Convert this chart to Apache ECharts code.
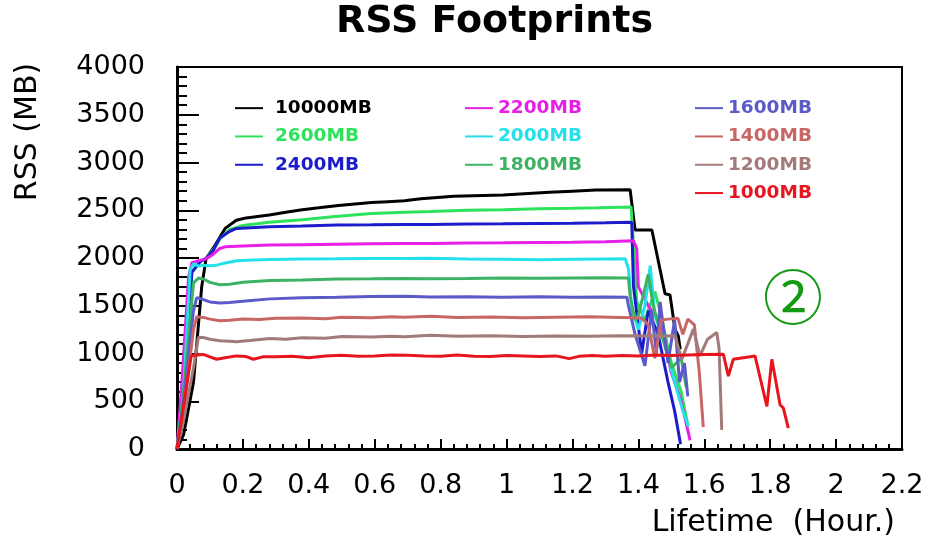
<!DOCTYPE html>
<html>
<head>
<meta charset="utf-8">
<script src="https://cdn.jsdelivr.net/npm/echarts@6/dist/echarts.min.js"></script>
<style>
html,body{margin:0;padding:0;background:#ffffff;}
#chart{width:934px;height:549px;}
</style>
</head>
<body>
<div id="chart"></div>
<script>
// ---------- data ----------
const seriesNames = ['10000MB','2600MB','2400MB','2200MB','2000MB','1800MB','1600MB','1400MB','1200MB','1000MB'];
const seriesColors = ['#000000','#2ee35c','#1c1ccc','#e61ee6','#24e0ea','#3db262','#5a5ac8','#c86666','#a27a7a','#e8141e'];
const legendColumns = [
  ['10000MB','2600MB','2400MB'],
  ['2200MB','2000MB','1800MB'],
  ['1600MB','1400MB','1200MB','1000MB']
];
const xTickLabels = ['0','0.2','0.4','0.6','0.8','1','1.2','1.4','1.6','1.8','2','2.2'];
const yTickLabels = ['0','500','1000','1500','2000','2500','3000','3500','4000'];

const hours10000 = [0,0.02,0.05,0.075,0.088,0.115,0.146,0.18,0.21,0.28,0.33,0.38,0.43,0.49,0.54,0.59,0.64,0.69,0.74,0.84,0.99,1.13,1.2,1.27,1.375,1.39,1.441,1.481,1.496,1.511,1.521,1.527];
const rss10000   = [0,150,700,1700,1990,2130,2310,2395,2420,2450,2480,2505,2525,2550,2565,2580,2590,2600,2620,2646,2660,2688,2700,2712,2715,2293,2293,1625,1614,1255,1185,1044];

const hours2600 = [0,0.02,0.045,0.07,0.09,0.115,0.13,0.16,0.2,0.28,0.38,0.48,0.59,0.69,0.77,0.88,0.99,1.1,1.2,1.28,1.378,1.385,1.395,1.42,1.45,1.47,1.5,1.53,1.55];
const rss2600   = [0,500,1850,1960,2000,2110,2200,2300,2340,2375,2400,2435,2465,2480,2488,2500,2505,2515,2520,2525,2535,2150,1550,1350,1650,1380,900,600,250];

const hours2400 = [0,0.02,0.045,0.07,0.09,0.11,0.13,0.16,0.181,0.28,0.38,0.485,0.59,0.69,0.77,0.88,0.99,1.1,1.2,1.3,1.38,1.385,1.41,1.43,1.46,1.49,1.51,1.528];
const rss2400   = [0,500,1850,1960,2000,2080,2210,2280,2310,2327,2335,2345,2348,2352,2352,2355,2358,2362,2365,2370,2375,1710,1000,1450,1200,700,400,50];

const hours2200 = [0,0.015,0.035,0.045,0.07,0.09,0.11,0.13,0.146,0.2,0.28,0.38,0.485,0.59,0.69,0.77,0.88,0.99,1.1,1.2,1.3,1.385,1.395,1.4,1.43,1.47,1.5,1.53,1.557];
const rss2200   = [0,700,1800,1950,1975,1995,2040,2100,2117,2125,2135,2140,2145,2150,2152,2153,2158,2160,2163,2165,2170,2180,2100,1700,1500,1300,800,500,90];

const hours2000 = [0,0.02,0.04,0.05,0.065,0.08,0.1,0.12,0.15,0.181,0.23,0.282,0.38,0.485,0.59,0.69,0.768,0.88,0.99,1.1,1.2,1.3,1.36,1.37,1.38,1.4,1.42,1.436,1.45,1.48,1.51,1.535,1.552];
const rss2000   = [0,600,1880,1940,1915,1925,1920,1925,1950,1972,1980,1985,1990,1992,1995,1996,1998,1990,1986,1982,1986,1990,1992,1888,1470,1250,1500,1920,1400,1100,700,400,235];

const hours1800 = [0,0.02,0.05,0.065,0.08,0.1,0.13,0.16,0.2,0.282,0.38,0.485,0.59,0.69,0.77,0.88,0.99,1.1,1.2,1.3,1.37,1.375,1.39,1.4,1.43,1.445,1.47,1.5,1.53,1.545];
const rss1800   = [0,600,1740,1790,1780,1745,1720,1725,1745,1765,1770,1780,1782,1785,1783,1785,1790,1788,1790,1792,1790,1600,1350,1400,1830,1500,1200,850,950,650];

const hours1600 = [0,0.02,0.05,0.06,0.08,0.1,0.13,0.16,0.2,0.282,0.38,0.485,0.59,0.69,0.77,0.88,0.99,1.1,1.2,1.3,1.365,1.37,1.39,1.42,1.44,1.455,1.466,1.49,1.51,1.525,1.54,1.55];
const rss1600   = [0,500,1450,1585,1565,1540,1530,1535,1548,1572,1585,1590,1598,1600,1592,1595,1590,1593,1588,1592,1590,1500,1200,870,1450,1000,1540,900,1350,700,900,550];

const hours1400 = [0,0.02,0.05,0.06,0.08,0.1,0.13,0.16,0.2,0.25,0.3,0.38,0.45,0.5,0.59,0.65,0.69,0.77,0.85,0.95,1.05,1.15,1.25,1.35,1.385,1.41,1.43,1.45,1.47,1.49,1.52,1.535,1.55,1.57,1.585,1.597];
const rss1400   = [0,400,1250,1385,1378,1360,1344,1348,1362,1355,1368,1372,1365,1380,1375,1385,1380,1390,1378,1382,1375,1380,1385,1378,1375,1370,1300,950,1350,1360,1370,1200,1360,1300,800,230];

const hours1200 = [0,0.02,0.05,0.065,0.08,0.1,0.13,0.16,0.181,0.22,0.282,0.33,0.38,0.45,0.5,0.59,0.65,0.69,0.77,0.85,0.95,1.05,1.15,1.25,1.35,1.45,1.511,1.532,1.567,1.587,1.61,1.638,1.645,1.653];
const rss1200   = [0,300,850,1170,1168,1150,1133,1128,1122,1135,1157,1150,1165,1160,1178,1172,1180,1175,1190,1180,1185,1178,1183,1180,1185,1183,1185,939,1255,974,1150,1220,1050,200];

const hours1000 = [0,0.02,0.043,0.06,0.08,0.1,0.12,0.146,0.18,0.21,0.232,0.26,0.3,0.35,0.4,0.45,0.5,0.55,0.6,0.65,0.7,0.75,0.8,0.85,0.9,0.95,1.0,1.05,1.1,1.15,1.19,1.22,1.26,1.3,1.35,1.4,1.45,1.5,1.55,1.6,1.658,1.673,1.688,1.754,1.79,1.805,1.83,1.84,1.855];
const rss1000   = [0,450,974,985,990,965,940,956,975,968,940,965,967,972,956,975,981,970,974,985,981,975,970,985,972,968,978,975,968,975,946,970,978,972,980,975,985,978,985,990,992,763,939,974,446,939,464,429,218];

const hourArrays = [hours10000,hours2600,hours2400,hours2200,hours2000,hours1800,hours1600,hours1400,hours1200,hours1000];
const rssArrays  = [rss10000,rss2600,rss2400,rss2200,rss2000,rss1800,rss1600,rss1400,rss1200,rss1000];

// ---------- chart ----------
const FONT = 'DejaVu Sans';
const chart = echarts.init(document.getElementById('chart'), null, {renderer: 'canvas'});

const colorOf = name => seriesColors[seriesNames.indexOf(name)];
const legendLefts = [235, 465, 695];

const legends = legendColumns.map((col, i) => ({
  orient: 'vertical',
  left: legendLefts[i],
  top: 94,
  padding: 0,
  itemGap: 0,
  itemWidth: 28,
  itemHeight: 2,
  icon: 'rect',
  selectedMode: false,
  textStyle: {fontFamily: FONT, fontWeight: 'bold', fontSize: 18.5, lineHeight: 28.3,
              padding: i === 0 ? [0, 0, 0, 7] : 0},
  data: col.map(n => ({name: n, textStyle: {color: colorOf(n)}}))
}));

const series = seriesNames.map((name, i) => ({
  name: name,
  type: 'line',
  symbol: 'none',
  showSymbol: false,
  color: seriesColors[i],
  lineStyle: {width: 3, color: seriesColors[i]},
  data: hourArrays[i].map((h, k) => [h, rssArrays[i][k]]),
  z: 2 + i
}));

chart.setOption({
  animation: false,
  backgroundColor: '#ffffff',
  title: [
    {text: 'RSS Footprints', left: 336, top: -1, padding: 0,
     textStyle: {fontFamily: FONT, fontWeight: 'bold', fontSize: 38, color: '#000', lineHeight: 46}},
    {text: '②', left: 763, top: 267, padding: 0,
     textStyle: {fontFamily: 'Noto Sans CJK SC', fontWeight: 'normal', fontSize: 60, lineHeight: 60, color: '#129a12'}}
  ],
  legend: legends,
  grid: {left: 177, right: 32, top: 67, bottom: 100, show: true, borderColor: '#000', borderWidth: 2, containLabel: false},
  xAxis: {
    type: 'value', min: 0, max: 2.2, interval: 0.2,
    name: 'Lifetime  (Hour.)', nameLocation: 'end', nameGap: -7,
    nameTextStyle: {fontFamily: FONT, fontSize: 30, color: '#000', align: 'right', verticalAlign: 'top', padding: [59, 0, 0, 0]},
    axisLine: {show: true, lineStyle: {color: '#000', width: 3}},
    axisTick: {show: true, inside: true, length: 10, lineStyle: {color: '#000', width: 2}},
    minorTick: {show: true, splitNumber: 5, length: 5, lineStyle: {color: '#000', width: 2}},
    splitLine: {show: false},
    axisLabel: {fontFamily: FONT, fontSize: 27, color: '#000', margin: 23,
                formatter: v => xTickLabels[Math.round(v / 0.2)]}
  },
  yAxis: {
    type: 'value', min: 0, max: 4000, interval: 500,
    name: 'RSS (MB)', nameLocation: 'middle', nameGap: 149, nameRotate: 90,
    nameTextStyle: {fontFamily: FONT, fontSize: 30, color: '#000', align: 'center', verticalAlign: 'middle', padding: [0, 0, 0, 252]},
    axisLine: {show: true, lineStyle: {color: '#000', width: 3}},
    axisTick: {show: true, inside: true, length: 22, lineStyle: {color: '#000', width: 2}},
    minorTick: {show: true, splitNumber: 5, length: 10, lineStyle: {color: '#000', width: 2}},
    splitLine: {show: false},
    axisLabel: {fontFamily: FONT, fontSize: 27, color: '#000', margin: 32,
                formatter: v => yTickLabels[Math.round(v / 500)]}
  },
  series: series
});
</script>
</body>
</html>
